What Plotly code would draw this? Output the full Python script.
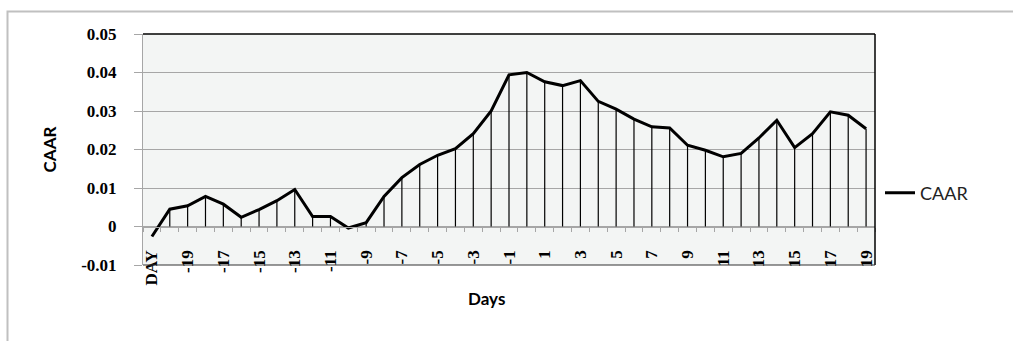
import plotly.graph_objects as go

# ---- data ----
categories = ["DAY", "-20", "-19", "-18", "-17", "-16", "-15", "-14", "-13", "-12", "-11",
              "-10", "-9", "-8", "-7", "-6", "-5", "-4", "-3", "-2", "-1",
              "0", "1", "2", "3", "4", "5", "6", "7", "8", "9",
              "10", "11", "12", "13", "14", "15", "16", "17", "18", "19"]
caar = [-0.0026, 0.0045, 0.0054, 0.0078, 0.0058, 0.0024, 0.0044, 0.0067, 0.0096, 0.0026,
        0.0026, -0.0004, 0.0010, 0.0078, 0.0127, 0.0161, 0.0185, 0.0202, 0.0241, 0.0300,
        0.0394, 0.0400, 0.0376, 0.0366, 0.0379, 0.0325, 0.0305, 0.0279, 0.0259, 0.0256,
        0.0211, 0.0198, 0.0181, 0.0190, 0.0230, 0.0276, 0.0205, 0.0241, 0.0298, 0.0289,
        0.0254]
x_tick_labels = [c if i % 2 == 0 else "" for i, c in enumerate(categories)]
y_tick_vals = [-0.01, 0, 0.01, 0.02, 0.03, 0.04, 0.05]
y_tick_text = ["-0.01", "0", "0.01", "0.02", "0.03", "0.04", "0.05"]

W, H = 1013, 341
L, R, T, B = 143, 138, 34, 76
pw, ph = W - L - R, H - T - B

def px(x):
    return (x - L) / pw

def py(y):
    return (H - B - y) / ph

serif = "Liberation Serif"
sans = "Lato"

fig = go.Figure()
fig.add_trace(go.Scatter(
    x=categories, y=caar, mode="lines", name="CAAR",
    line=dict(color="black", width=3),
    error_y=dict(type="data", symmetric=False,
                 array=[0] * len(caar),
                 arrayminus=[max(v, 0) for v in caar],
                 width=0, thickness=1.2, color="black"),
))

grid = "#A6A6A6"
tickfont = dict(family=serif, size=17, color="black", weight="bold")
fig.update_layout(
    width=W, height=H,
    margin=dict(l=L, r=R, t=T, b=B, pad=0),
    paper_bgcolor="white",
    plot_bgcolor="#F3F5F4",
    showlegend=True,
    legend=dict(x=px(880), y=py(193), xanchor="left", yanchor="middle",
                font=dict(family=sans, size=18, color="#222"),
                bgcolor="rgba(0,0,0,0)", borderwidth=0),
    xaxis=dict(type="category", categoryorder="array", categoryarray=categories,
               range=[-0.5, len(categories) - 0.5],
               anchor="free", position=(0 - (-0.01)) / 0.06,
               showline=True, linecolor=grid, linewidth=1,
               ticks="outside", tickson="boundaries", ticklen=4, tickcolor=grid,
               tickvals=categories, ticktext=x_tick_labels, tickangle=-90,
               ticklabelstandoff=16,
               tickfont=tickfont,
               showgrid=False, zeroline=False),
    yaxis=dict(range=[-0.01, 0.05], domain=[0, 1],
               tickvals=y_tick_vals, ticktext=y_tick_text,
               ticks="outside", ticklen=8, tickcolor=grid,
               showline=True, linecolor=grid, linewidth=1,
               showgrid=True, gridcolor=grid, gridwidth=1, zeroline=False,
               tickfont=tickfont,
               ticklabelstandoff=14,
               title=dict(text="<b>CAAR</b>", font=dict(family=sans, size=17, color="black"),
                          standoff=20)),
    annotations=[dict(text="<b>Days</b>", x=px(486), y=py(298), xref="paper", yref="paper",
                      showarrow=False, xanchor="center", yanchor="middle",
                      font=dict(family=sans, size=17, color="black"))],
    shapes=[
        dict(type="rect", xref="paper", yref="paper",
             x0=px(7.5), x1=px(1030), y0=py(400), y1=py(11.5),
             line=dict(color="#C0C0C0", width=2), layer="below"),
        dict(type="line", xref="x domain", yref="y domain", x0=0, x1=1, y0=1, y1=1,
             line=dict(color="black", width=1.5)),
        dict(type="line", xref="x domain", yref="y domain", x0=1, x1=1, y0=0, y1=1,
             line=dict(color="black", width=1.5)),
        dict(type="line", xref="x domain", yref="y domain", x0=0, x1=1, y0=0, y1=0,
             line=dict(color="#333333", width=1.2)),
    ],
)

fig.write_html("out.html")
